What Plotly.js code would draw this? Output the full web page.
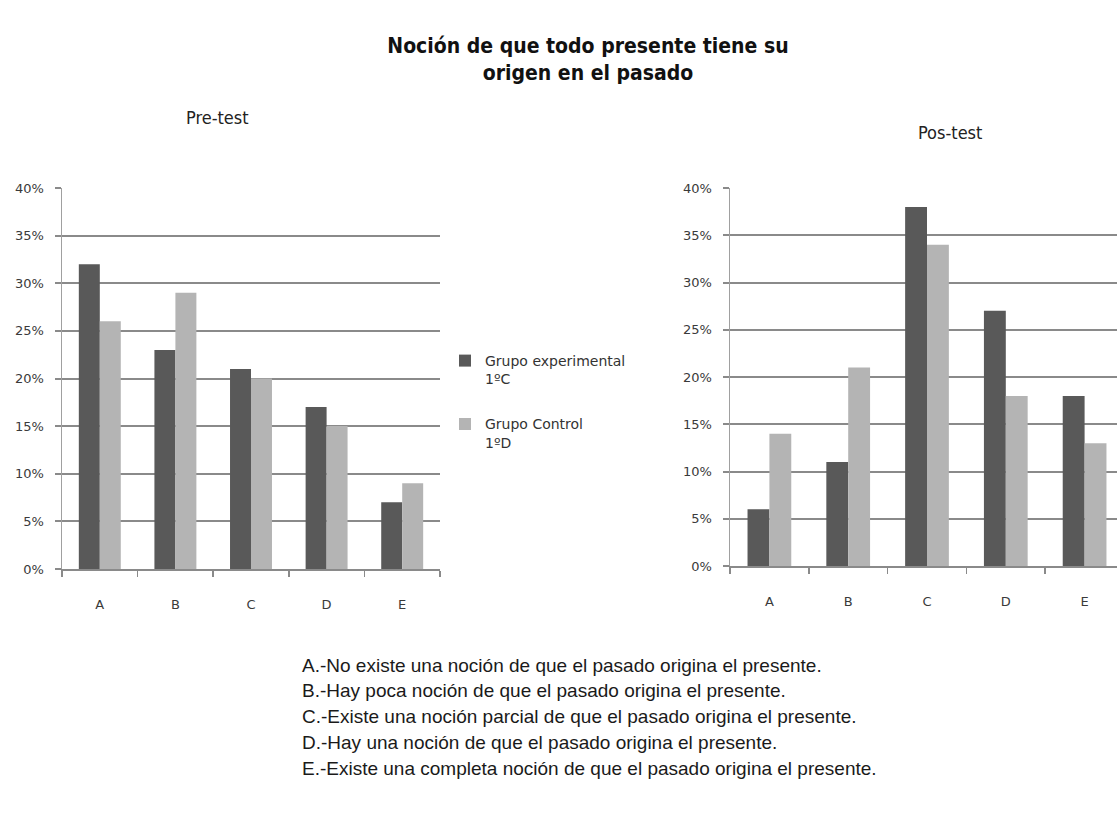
<!DOCTYPE html>
<html><head><meta charset="utf-8">
<script src="https://cdn.plot.ly/plotly-3.0.1.min.js"></script>
<style>html,body{margin:0;padding:0;overflow:hidden;background:#fff}#chart{width:1125px;height:830px}</style>
</head><body><div id="chart"></div>
<script>
const categories = ['A','B','C','D','E'];
const preExperimental = [0.32, 0.23, 0.21, 0.17, 0.07];
const preControl = [0.26, 0.29, 0.20, 0.15, 0.09];
const posExperimental = [0.06, 0.11, 0.38, 0.27, 0.18];
const posControl = [0.14, 0.21, 0.34, 0.18, 0.13];
const seriesNames = ['Grupo experimental<br>1ºC', 'Grupo Control<br>1ºD'];
const yTicks = [0, 0.05, 0.10, 0.15, 0.20, 0.25, 0.30, 0.35, 0.40];
const yTickText = ['0%','5%','10%','15%','20%','25%','30%','35%','40%'];
const mainTitle = 'Noción de que todo presente tiene su<br>origen en el pasado';
const subTitles = ['Pre-test', 'Pos-test'];
const notes = [
  'A.-No existe una noción de que el pasado origina el presente.',
  'B.-Hay poca noción de que el pasado origina el presente.',
  'C.-Existe una noción parcial de que el pasado origina el presente.',
  'D.-Hay una noción de que el pasado origina el presente.',
  'E.-Existe una completa noción de que el pasado origina el presente.'
];

const W = 1125, H = 830;
const darkC = '#595959', lightC = '#b4b4b4';
const gridC = '#8a8a8a';
const px = x => x / W;
const py = y => 1 - y / H;

const traces = [
  {type:'bar', x:categories, y:preExperimental, name:seriesNames[0], marker:{color:darkC}, xaxis:'x', yaxis:'y', legendgroup:'g1', showlegend:true},
  {type:'bar', x:categories, y:preControl, name:seriesNames[1], marker:{color:lightC}, xaxis:'x', yaxis:'y', legendgroup:'g2', showlegend:true},
  {type:'bar', x:categories, y:posExperimental, name:seriesNames[0], marker:{color:darkC}, xaxis:'x2', yaxis:'y2', legendgroup:'g1', showlegend:false},
  {type:'bar', x:categories, y:posControl, name:seriesNames[1], marker:{color:lightC}, xaxis:'x2', yaxis:'y2', legendgroup:'g2', showlegend:false}
];

const tickFont = {family:'DejaVu Sans, Verdana, sans-serif', size:13, color:'#3a3a3a'};
function xax(domain, anchor){
  return {domain:domain, anchor:anchor, type:'category', categoryorder:'array', categoryarray:categories,
    range:[-0.5,4.5], showgrid:false, showline:true, linecolor:gridC, linewidth:2,
    ticks:'outside', tickson:'boundaries', ticklen:6, tickcolor:gridC, tickwidth:1.5,
    tickfont:tickFont, automargin:false, fixedrange:true, ticklabelstandoff:22};
}
function yax(domain, anchor){
  return {domain:domain, anchor:anchor, range:[0,0.40], tickvals:yTicks, ticktext:yTickText,
    showgrid:true, gridcolor:gridC, gridwidth:2, showline:true, linecolor:'#a0a0a0', linewidth:1.5,
    ticks:'outside', ticklen:6, tickcolor:gridC, tickwidth:2, zeroline:false,
    tickfont:tickFont, automargin:false, fixedrange:true, ticklabelstandoff:8};
}

const subFont = {family:'DejaVu Sans Condensed, DejaVu Sans, Arial, sans-serif', size:18, color:'#222'};
const annotations = [
  {text:subTitles[0], x:px(217), y:py(117), xref:'paper', yref:'paper', showarrow:false, xanchor:'center', yanchor:'middle', font:subFont},
  {text:subTitles[1], x:px(950), y:py(133), xref:'paper', yref:'paper', showarrow:false, xanchor:'center', yanchor:'middle', font:subFont}
];
const noteY = [665, 690, 716, 742, 768];
notes.forEach((t,i)=>annotations.push({text:t, x:px(300), y:py(noteY[i]), xref:'paper', yref:'paper', showarrow:false,
  xanchor:'left', yanchor:'middle', align:'left',
  font:{family:'Liberation Sans, Arial, sans-serif', size:19, color:'#1a1a1a'}}));

const layout = {
  width:W, height:H, margin:{l:0,r:0,t:0,b:0}, paper_bgcolor:'#fff', plot_bgcolor:'#fff',
  barmode:'group', bargap:0.445, bargroupgap:0,
  title:{text:mainTitle, x:px(588), xanchor:'center', y:py(53), yanchor:'top',
    font:{family:'DejaVu Sans Condensed, DejaVu Sans, Arial, sans-serif', size:21, color:'#111', weight:'bold'}},
  xaxis: xax([px(62), px(440)], 'y'),
  yaxis: yax([py(569), py(188)], 'x'),
  xaxis2: xax([px(730), px(1124)], 'y2'),
  yaxis2: yax([py(566), py(188)], 'x2'),
  showlegend:true,
  legend:{x:px(445), y:py(345), xanchor:'left', yanchor:'top', bgcolor:'rgba(0,0,0,0)', borderwidth:0,
    font:{family:'DejaVu Sans, Verdana, sans-serif', size:14, color:'#333'}, tracegroupgap:24, traceorder:'grouped',
    valign:'top', itemwidth:30},
  annotations:annotations
};
Plotly.newPlot('chart', traces, layout, {displayModeBar:false, staticPlot:true});
</script></body></html>
